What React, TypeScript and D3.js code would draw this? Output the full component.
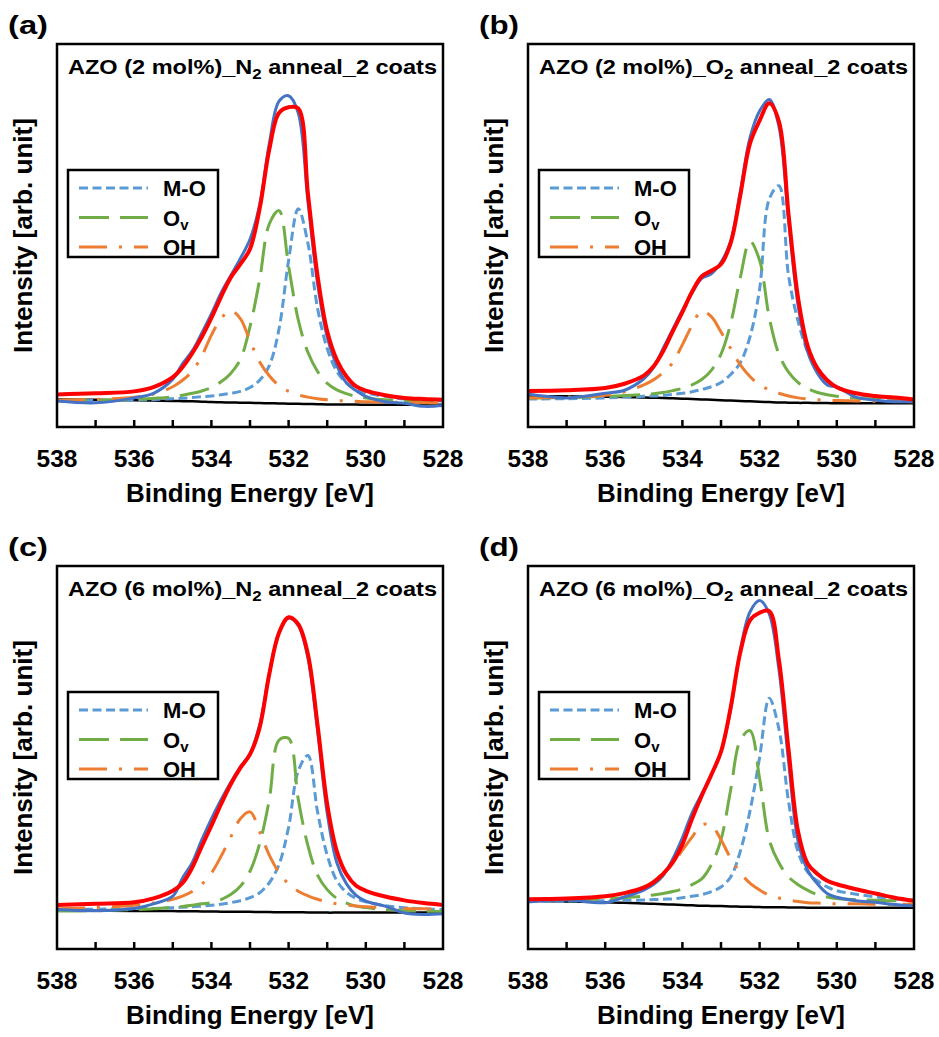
import * as d3 from "d3";

// binding energy grid (eV), shared by every curve
const energy = [
  538, 537, 536, 535.5, 535, 534.75, 534.5, 534.25, 534, 533.75, 533.5, 533.25,
  533, 532.75, 532.5, 532.25, 532, 531.75, 531.5, 531.25, 531, 530.75, 530.5,
  530.25, 530, 529.5, 529, 528.5, 528,
];

const panelLabels = ["(a)", "(b)", "(c)", "(d)"];
const dopings = ["2", "2", "6", "6"];
const gases = ["N", "O", "N", "O"];
const legendNames = ["M-O", "Ov", "OH"];
const tickLabels = [538, 536, 534, 532, 530, 528];

// (a) AZO 2 mol% N2
const rawA = [6.8, 6.3, 7.6, 8.8, 12.5, 16.5, 19.8, 24.5, 29.5, 35.0, 39.5, 44.0, 49.0, 58.0, 74.0, 85.0, 86.5, 82.0, 59.0, 37.5, 23.5, 16.0, 11.5, 9.5, 8.0, 6.6, 6.2, 5.4, 5.6];
const fitA = [8.5, 8.8, 9.3, 10.4, 13.0, 15.6, 19.2, 23.5, 28.5, 34.0, 39.0, 42.5, 46.5, 57.0, 72.5, 82.0, 83.5, 83.2, 61.0, 39.5, 25.0, 17.5, 13.2, 10.6, 9.5, 8.3, 7.6, 7.3, 7.1];
const moA = [6.8, 6.9, 7.0, 7.2, 7.4, 7.5, 7.7, 7.9, 8.1, 8.4, 8.8, 9.3, 10.3, 12.2, 16.0, 25.5, 43.5, 57.0, 48.0, 31.0, 20.5, 14.5, 11.5, 9.8, 8.9, 8.0, 7.3, 7.0, 6.8];
const ovA = [6.9, 7.0, 7.2, 7.5, 7.9, 8.3, 8.8, 9.4, 10.3, 11.8, 14.0, 17.6, 26.2, 38.5, 53.0, 56.5, 42.0, 28.0, 19.5, 14.5, 11.4, 9.7, 8.7, 8.0, 7.6, 7.1, 6.8, 6.6, 6.5];
const ohA = [7.0, 7.2, 7.8, 8.6, 10.5, 12.2, 14.5, 18.5, 24.0, 28.3, 30.4, 28.3, 22.5, 17.0, 13.4, 10.8, 9.3, 8.4, 7.8, 7.4, 7.1, 6.9, 6.8, 6.7, 6.6, 6.5, 6.4, 6.3, 6.3];
const bgA = [7.2, 7.1, 7.0, 6.9, 6.8, 6.75, 6.7, 6.6, 6.5, 6.45, 6.4, 6.35, 6.3, 6.25, 6.2, 6.15, 6.1, 6.05, 6.0, 5.95, 5.9, 5.9, 5.85, 5.85, 5.8, 5.8, 5.8, 5.8, 5.8];

// (b) AZO 2 mol% O2
const rawB = [8.6, 7.6, 8.8, 9.6, 12.6, 15.5, 20.5, 25.5, 30.5, 35.0, 38.8, 40.0, 43.0, 48.5, 61.5, 75.5, 82.5, 85.5, 78.5, 54.0, 31.5, 19.5, 14.0, 11.0, 10.4, 7.8, 7.0, 6.6, 6.6];
const fitB = [9.4, 9.6, 10.2, 11.3, 13.4, 15.8, 19.8, 25.0, 30.0, 35.3, 39.3, 40.8, 42.5, 48.0, 60.5, 74.0, 80.0, 84.5, 79.8, 55.5, 33.5, 21.0, 15.3, 12.2, 10.4, 8.8, 8.1, 7.7, 7.2];
const moB = [7.3, 7.4, 7.6, 7.8, 8.0, 8.1, 8.2, 8.5, 8.8, 9.2, 9.8, 10.5, 11.6, 13.7, 16.8, 23.5, 36.0, 59.5, 63.0, 39.5, 27.5, 19.5, 14.8, 12.0, 10.5, 8.7, 7.8, 7.4, 7.1];
const ovB = [7.6, 7.7, 8.0, 8.2, 8.5, 8.7, 9.0, 9.5, 10.1, 11.0, 12.4, 14.8, 19.0, 27.0, 39.0, 48.5, 43.5, 28.6, 19.0, 14.3, 11.6, 10.0, 9.0, 8.4, 8.0, 7.5, 7.3, 7.1, 7.0];
const ohB = [7.6, 7.8, 8.3, 9.2, 11.0, 12.3, 14.2, 16.8, 21.5, 26.5, 30.3, 28.8, 24.8, 20.5, 16.2, 13.2, 11.0, 9.7, 8.8, 8.1, 7.6, 7.3, 7.1, 7.0, 6.9, 6.8, 6.7, 6.7, 6.6];
const bgB = [8.1, 8.0, 7.9, 7.85, 7.7, 7.65, 7.6, 7.5, 7.4, 7.3, 7.2, 7.1, 7.0, 6.9, 6.8, 6.7, 6.6, 6.5, 6.4, 6.35, 6.3, 6.3, 6.25, 6.25, 6.2, 6.2, 6.2, 6.2, 6.2];

// (c) AZO 6 mol% N2
const rawC = [10.3, 10.0, 10.6, 11.8, 13.8, 18.5, 22.5, 28.5, 34.0, 39.0, 43.5, 47.5, 51.0, 58.5, 72.0, 82.5, 86.4, 84.5, 76.0, 57.0, 35.5, 22.5, 17.0, 14.0, 12.5, 11.2, 9.4, 9.0, 9.2];
const fitC = [11.5, 11.8, 12.2, 13.2, 15.2, 17.2, 21.2, 26.8, 32.2, 37.8, 43.0, 47.3, 50.8, 57.8, 71.8, 82.5, 86.6, 84.8, 77.0, 58.5, 37.8, 25.5, 19.5, 16.5, 15.2, 13.7, 12.7, 12.0, 11.5];
const moC = [10.3, 10.4, 10.5, 10.6, 10.8, 10.9, 11.0, 11.2, 11.4, 11.7, 12.1, 12.6, 13.4, 14.7, 17.3, 22.0, 31.8, 46.5, 50.5, 35.8, 24.5, 17.8, 14.8, 13.2, 12.3, 11.3, 10.8, 10.5, 10.3];
const ovC = [9.9, 10.0, 10.3, 10.5, 10.9, 11.1, 11.4, 11.8, 12.1, 12.9, 14.2, 16.4, 20.3, 27.5, 39.0, 54.5, 55.0, 39.1, 27.0, 19.3, 15.5, 13.2, 12.0, 11.2, 10.8, 10.3, 10.0, 9.9, 9.8];
const ohC = [10.5, 10.8, 11.4, 12.0, 13.0, 13.8, 15.0, 16.9, 19.8, 24.2, 29.2, 34.0, 35.8, 30.6, 24.5, 20.0, 17.0, 15.1, 13.9, 13.0, 12.3, 11.8, 11.5, 11.2, 11.0, 10.8, 10.6, 10.5, 10.4];
const bgC = [10.0, 10.0, 9.95, 9.9, 9.9, 9.85, 9.85, 9.8, 9.8, 9.75, 9.75, 9.7, 9.7, 9.65, 9.65, 9.6, 9.6, 9.6, 9.55, 9.55, 9.5, 9.5, 9.5, 9.5, 9.5, 9.5, 9.5, 9.5, 9.5];

// (d) AZO 6 mol% O2
const rawD = [12.3, 12.8, 12.1, 13.6, 15.4, 16.8, 19.2, 23.5, 29.0, 35.5, 40.5, 45.5, 51.5, 62.5, 78.0, 88.0, 91.0, 87.5, 73.0, 49.0, 28.0, 20.5, 17.0, 14.5, 13.5, 12.6, 12.2, 11.6, 11.2];
const fitD = [13.0, 13.2, 13.8, 14.6, 16.0, 17.4, 19.6, 22.6, 27.3, 34.0, 40.0, 45.5, 51.5, 63.0, 77.5, 85.8, 87.8, 88.2, 75.5, 52.0, 30.5, 22.2, 19.6, 17.8, 16.9, 15.6, 14.5, 13.4, 12.6];
const moD = [12.4, 12.5, 12.6, 12.7, 12.8, 12.9, 13.0, 13.1, 13.4, 13.8, 14.2, 15.0, 16.2, 18.8, 25.5, 36.0, 50.0, 65.5, 57.5, 38.5, 25.2, 20.0, 17.8, 16.2, 15.2, 14.3, 13.6, 13.1, 12.8];
const ovD = [12.6, 12.8, 13.1, 13.4, 13.8, 14.1, 14.5, 15.0, 15.7, 16.8, 18.3, 22.0, 28.5, 41.5, 54.5, 57.0, 44.5, 28.5, 22.5, 18.8, 16.8, 15.3, 14.2, 13.6, 13.2, 12.9, 12.7, 12.6, 12.5];
const ohD = [12.9, 13.1, 13.7, 14.6, 16.2, 17.6, 19.9, 22.3, 25.8, 29.2, 32.4, 32.3, 28.5, 23.7, 19.9, 17.2, 15.4, 14.0, 13.3, 12.8, 12.4, 12.1, 12.0, 11.9, 11.8, 11.8, 11.7, 11.7, 11.6];
const bgD = [12.6, 12.4, 12.2, 12.1, 11.9, 11.8, 11.7, 11.6, 11.5, 11.4, 11.3, 11.25, 11.2, 11.1, 11.05, 11.0, 10.95, 10.9, 10.9, 10.85, 10.85, 10.8, 10.8, 10.8, 10.8, 10.8, 10.8, 10.8, 10.8];

const panels = [
  { raw: rawA, fit: fitA, mo: moA, ov: ovA, oh: ohA, bg: bgA },
  { raw: rawB, fit: fitB, mo: moB, ov: ovB, oh: ohB, bg: bgB },
  { raw: rawC, fit: fitC, mo: moC, ov: ovC, oh: ohC, bg: bgC },
  { raw: rawD, fit: fitD, mo: moD, ov: ovD, oh: ohD, bg: bgD },
];

const BOX_W = 386;
const BOX_H = 383;
const COL_X = [57, 528];
const ROW_Y = [44, 566];
const FONT = "'Liberation Sans', Arial, sans-serif";

const componentStyles = [
  { key: "mo", color: "#5B9BD5", dash: "9 4.5" },
  { key: "ov", color: "#70AD47", dash: "30 11" },
  { key: "oh", color: "#ED7D31", dash: "28 12 3 12" },
] as const;

type PanelData = (typeof panels)[number];

const Panel = ({ data, index }: { data: PanelData; index: number }) => {
  const x0 = COL_X[index % 2];
  const y0 = ROW_Y[Math.floor(index / 2)];

  const xScale = d3.scaleLinear().domain([538, 528]).range([0, BOX_W]);
  const yScale = d3.scaleLinear().domain([0, 100]).range([BOX_H, 0]);

  const lineGenerator = d3
    .line<number>()
    .x((_, i) => xScale(energy[i]))
    .y((d) => yScale(d))
    .curve(d3.curveCatmullRom.alpha(0.5));

  const clipId = "clip-" + index;
  const minorTicks = xScale.ticks(10).filter((t) => t !== 538 && t !== 528);

  return (
    <g transform={"translate(" + x0 + "," + y0 + ")"}>
      <defs>
        <clipPath id={clipId}>
          <rect x={0} y={0} width={BOX_W} height={BOX_H} />
        </clipPath>
      </defs>

      <g clipPath={"url(#" + clipId + ")"} fill="none">
        <path d={lineGenerator(data.bg) || undefined} stroke="#000" strokeWidth={2.5} />
        {componentStyles.map((c) => (
          <path
            key={c.key}
            d={lineGenerator(data[c.key]) || undefined}
            stroke={c.color}
            strokeWidth={3}
            strokeDasharray={c.dash}
          />
        ))}
        <path d={lineGenerator(data.raw) || undefined} stroke="#4472C4" strokeWidth={3} />
        <path d={lineGenerator(data.fit) || undefined} stroke="#FF0000" strokeWidth={4} />
      </g>

      {/* frame and inward ticks */}
      <rect x={0} y={0} width={BOX_W} height={BOX_H} fill="none" stroke="#000" strokeWidth={2.5} />
      {minorTicks.map((t) => (
        <line key={t} x1={xScale(t)} x2={xScale(t)} y1={BOX_H} y2={BOX_H - 7} stroke="#000" strokeWidth={2.5} />
      ))}

      <g fontFamily={FONT} fontWeight="bold" fill="#000">
        {tickLabels.map((t) => (
          <text key={t} x={xScale(t)} y={BOX_H + 40} fontSize={24.5} textAnchor="middle">
            {t}
          </text>
        ))}
        <text x={BOX_W / 2} y={BOX_H + 75} fontSize={25} textAnchor="middle" textLength={248} lengthAdjust="spacingAndGlyphs">
          Binding Energy [eV]
        </text>
        <text
          transform={"translate(-25," + BOX_H / 2 + ") rotate(-90)"}
          fontSize={25}
          textAnchor="middle"
          textLength={235}
          lengthAdjust="spacingAndGlyphs"
        >
          Intensity [arb. unit]
        </text>
        <text x={-49} y={-10} fontSize={25} textLength={40} lengthAdjust="spacingAndGlyphs">
          {panelLabels[index]}
        </text>
        <text x={11} y={30} fontSize={21} textLength={369} lengthAdjust="spacingAndGlyphs">
          AZO ({dopings[index]} mol%)_{gases[index]}
          <tspan dy={5} fontSize={15}>2</tspan>
          <tspan dy={-5}> anneal_2 coats</tspan>
        </text>
      </g>

      {/* legend */}
      <g transform="translate(11,126)">
        <rect x={0} y={0} width={150} height={87} fill="#fff" stroke="#000" strokeWidth={2.5} />
        {componentStyles.map((c, i) => (
          <g key={c.key} transform={"translate(0," + (18 + i * 29.5) + ")"}>
            <line x1={11} x2={80} y1={0} y2={0} stroke={c.color} strokeWidth={3} strokeDasharray={c.dash} />
            <text x={95} y={8} fontFamily={FONT} fontWeight="bold" fontSize={22}>
              {legendNames[i] === "Ov" ? (
                <>
                  O<tspan dy={4} fontSize={15}>v</tspan>
                </>
              ) : (
                legendNames[i]
              )}
            </text>
          </g>
        ))}
      </g>
    </g>
  );
};

export default function App() {
  return (
    <svg
      width={939}
      height={1037}
      style={{ position: "absolute", left: 0, top: 0, background: "#fff" }}
    >
      {panels.map((p, i) => (
        <Panel key={i} data={p} index={i} />
      ))}
    </svg>
  );
}
